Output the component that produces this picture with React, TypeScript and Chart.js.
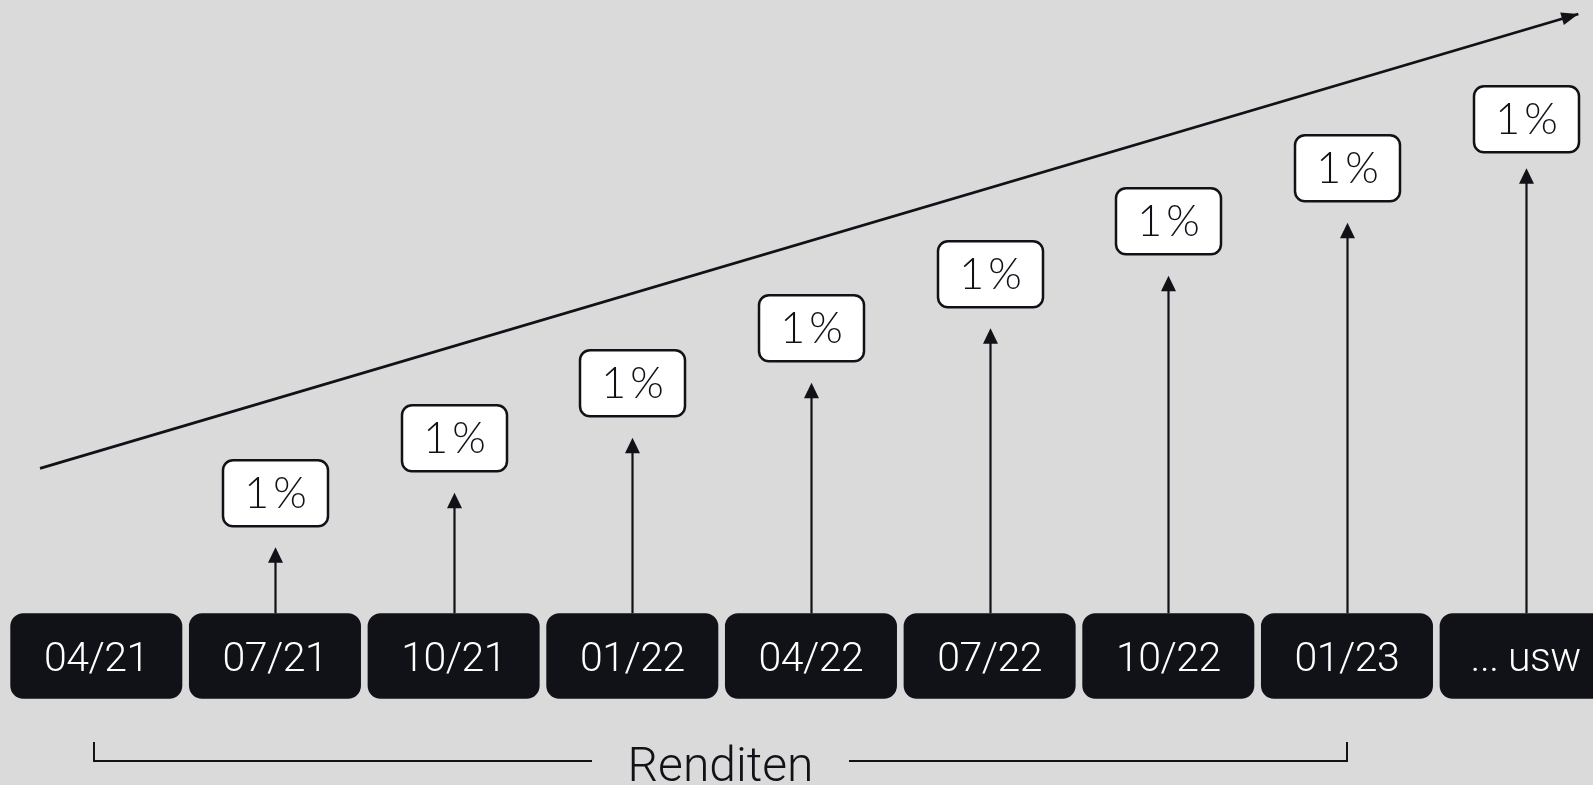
import React, { useEffect, useRef } from "react";
import { Chart, registerables } from "chart.js";

Chart.register(...registerables);

// Quarters (category boxes along the bottom)
const periods = ["04/21", "07/21", "10/21", "01/22", "04/22", "07/22", "10/22", "01/23", "... usw"];
// Height of each return arrow (index 1..8), growing each quarter
const arrowHeights = [0, 66, 120.5, 175.5, 230.5, 285, 337.5, 390.5, 445];
// Height of bottom of each return label box
const labelLevels = [0, 87, 142, 197, 252, 306, 359, 412, 461];
// Return label texts
const returnLabels = ["", "1%", "1%", "1%", "1%", "1%", "1%", "1%", "1%"];
// Overall growth trend line (start/end)
const trendX = [-0.315, 8.295];
const trendY = [145, 599.3];
// Bracket range (period indices) and caption
const bracketRange = [0, 7];
const bracketCaption = "Renditen";

const DARK = "#111217";
const BG = "#dadada";

function roundRect(ctx: CanvasRenderingContext2D, x: number, y: number, w: number, h: number, r: number) {
  ctx.beginPath();
  ctx.moveTo(x + r, y);
  ctx.lineTo(x + w - r, y);
  ctx.arcTo(x + w, y, x + w, y + r, r);
  ctx.lineTo(x + w, y + h - r);
  ctx.arcTo(x + w, y + h, x + w - r, y + h, r);
  ctx.lineTo(x + r, y + h);
  ctx.arcTo(x, y + h, x, y + h - r, r);
  ctx.lineTo(x, y + r);
  ctx.arcTo(x, y, x + r, y, r);
  ctx.closePath();
}

const diagramPlugin = {
  id: "diagram",
  afterDatasetsDraw(chart: any) {
    const ctx: any = chart.ctx;
    const xs = chart.scales.x;
    const ys = chart.scales.y;
    const base = ys.getPixelForValue(0);
    const boxH = 85.5;
    const boxW = 172;
    ctx.save();

    // trend arrowhead
    const x0 = xs.getPixelForValue(trendX[0]);
    const y0 = ys.getPixelForValue(trendY[0]);
    const x1 = xs.getPixelForValue(trendX[1]);
    const y1 = ys.getPixelForValue(trendY[1]);
    const ang = Math.atan2(y1 - y0, x1 - x0);
    ctx.fillStyle = DARK;
    ctx.beginPath();
    ctx.moveTo(x1, y1);
    ctx.lineTo(x1 - 17 * Math.cos(ang) + 6.5 * Math.sin(ang), y1 - 17 * Math.sin(ang) - 6.5 * Math.cos(ang));
    ctx.lineTo(x1 - 17 * Math.cos(ang) - 6.5 * Math.sin(ang), y1 - 17 * Math.sin(ang) + 6.5 * Math.cos(ang));
    ctx.closePath();
    ctx.fill();

    // vertical arrows and labels
    for (let i = 1; i < periods.length; i++) {
      const cx = Math.round(xs.getPixelForValue(i)) + 0.5;
      const tip = ys.getPixelForValue(arrowHeights[i]);
      ctx.strokeStyle = DARK;
      ctx.lineWidth = 2.2;
      ctx.beginPath();
      ctx.moveTo(cx, base);
      ctx.lineTo(cx, tip + 10);
      ctx.stroke();
      ctx.fillStyle = DARK;
      ctx.beginPath();
      ctx.moveTo(cx, tip);
      ctx.lineTo(cx - 7.5, tip + 15.5);
      ctx.lineTo(cx + 7.5, tip + 15.5);
      ctx.closePath();
      ctx.fill();

      const lb = ys.getPixelForValue(labelLevels[i]);
      const lw = 105;
      const lh = 66;
      roundRect(ctx, cx - lw / 2, lb - lh, lw, lh, 10);
      ctx.fillStyle = "#ffffff";
      ctx.fill();
      ctx.lineWidth = 2.5;
      ctx.strokeStyle = DARK;
      ctx.stroke();
      ctx.fillStyle = DARK;
      ctx.font = "300 43px Lato";
      ctx.textAlign = "center";
      ctx.textBaseline = "middle";
      ctx.letterSpacing = "4px";
      ctx.fillText(returnLabels[i], cx + 2, lb - lh / 2 + 1);
      ctx.letterSpacing = "0px";
    }

    // period boxes
    for (let i = 0; i < periods.length; i++) {
      const cx = xs.getPixelForValue(i);
      roundRect(ctx, cx - boxW / 2, base, boxW, boxH, 13);
      ctx.fillStyle = DARK;
      ctx.fill();
      ctx.fillStyle = "#ffffff";
      ctx.font = "300 41px Roboto";
      ctx.textAlign = "center";
      ctx.textBaseline = "middle";
      ctx.letterSpacing = "-0.5px";
      ctx.fillText(periods[i], cx, base + boxH / 2 + 5);
      ctx.letterSpacing = "0px";
    }

    // bracket
    const bl = Math.round(xs.getPixelForValue(bracketRange[0])) - 2;
    const br = Math.round(xs.getPixelForValue(bracketRange[1]));
    const by = 761;
    const bTop = 742;
    const mid = (bl + br) / 2;
    ctx.strokeStyle = DARK;
    ctx.lineWidth = 2;
    ctx.beginPath();
    ctx.moveTo(bl, bTop);
    ctx.lineTo(bl, by);
    ctx.lineTo(592, by);
    ctx.moveTo(849, by);
    ctx.lineTo(br, by);
    ctx.lineTo(br, bTop);
    ctx.stroke();
    ctx.fillStyle = DARK;
    ctx.font = "300 48px Roboto";
    ctx.textAlign = "center";
    ctx.textBaseline = "alphabetic";
    ctx.fillText(bracketCaption, mid, 781);

    ctx.restore();
  },
};

export default function App() {
  const ref = useRef<HTMLCanvasElement | null>(null);
  useEffect(() => {
    document.body.style.margin = "0";
    document.body.style.overflow = "hidden";
    document.body.style.background = BG;
    const canvas = ref.current!;
    const chart = new Chart(canvas, {
      type: "line",
      data: {
        datasets: [
          {
            data: trendX.map((x, i) => ({ x, y: trendY[i] })),
            borderColor: DARK,
            borderWidth: 2.8,
            pointRadius: 0,
            fill: false,
          },
        ],
      },
      options: {
        responsive: false,
        animation: false,
        layout: { padding: 0 },
        scales: {
          x: { type: "linear", min: -0.539, max: 8.377, display: false },
          y: { type: "linear", min: -171.7, max: 613.3, display: false },
        },
        plugins: { legend: { display: false }, tooltip: { enabled: false } },
      },
      plugins: [diagramPlugin],
    });
    return () => chart.destroy();
  }, []);
  return (
    <div style={{ width: 1593, height: 785, background: BG }}>
      <canvas ref={ref} width={1593} height={785} style={{ display: "block", width: 1593, height: 785 }} />
    </div>
  );
}
